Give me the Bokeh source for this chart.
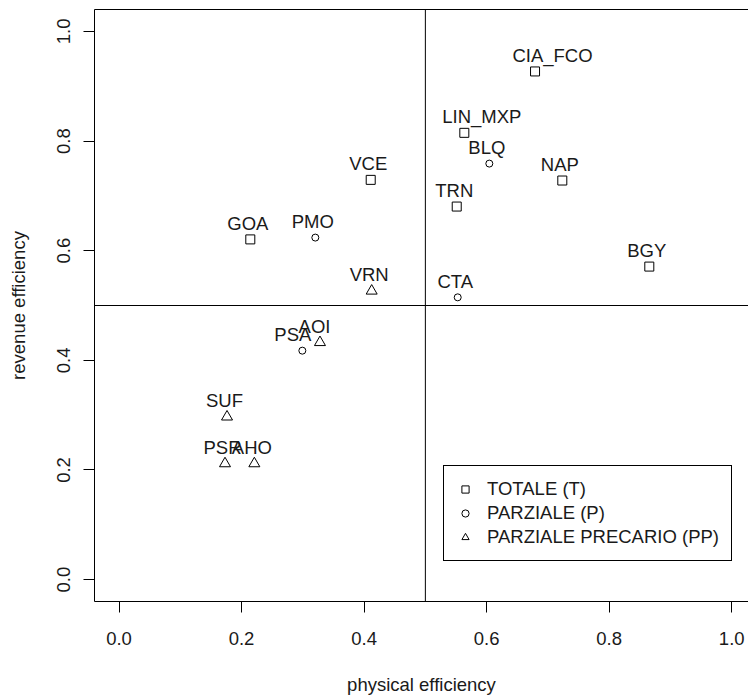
from bokeh.plotting import figure
from bokeh.models import (ColumnDataSource, Range1d, FixedTicker, LinearAxis, Span,
                          Legend, LegendItem)
from bokeh.core.properties import value
from bokeh.embed import file_html
from bokeh.resources import INLINE

# ---- data ----
tot_names = ["CIA_FCO", "LIN_MXP", "NAP", "TRN", "BGY", "VCE", "GOA"]
tot_phys = [0.679, 0.5636, 0.7235, 0.5512, 0.8655, 0.4108, 0.2143]
tot_rev = [0.927, 0.815, 0.728, 0.6805, 0.571, 0.7292, 0.6206]

par_names = ["BLQ", "CTA", "PMO", "PSA"]
par_phys = [0.6044, 0.5528, 0.3204, 0.2992]
par_rev = [0.7589, 0.5149, 0.6239, 0.4176]

pp_names = ["VRN", "AOI", "SUF", "PSR", "AHO"]
pp_phys = [0.4124, 0.328, 0.1763, 0.173, 0.2209]
pp_rev = [0.5266, 0.4327, 0.2969, 0.2116, 0.2116]

legend_labels = ["TOTALE (T)", "PARZIALE (P)", "PARZIALE PRECARIO (PP)"]
ticks = [0.0, 0.2, 0.4, 0.6, 0.8, 1.0]
tick_labels = ["0.0", "0.2", "0.4", "0.6", "0.8", "1.0"]
threshold = 0.5

# label nudges (pixels), style only
label_dx = {"CIA_FCO": 20, "LIN_MXP": 20, "PSA": -7, "AOI": -3}
BASE_DX = -2.5
BASE_DY = -16

FONT = "Liberation Sans"
FS = "18.5px"
TXT = "#1a1a1a"

p = figure(width=748, height=698, output_backend="svg", toolbar_location=None,
           x_range=Range1d(-0.04, 1.0274), y_range=Range1d(-0.04, 1.04),
           min_border_left=94, min_border_right=0, min_border_top=9, min_border_bottom=97)
p.outline_line_color = None
p.grid.visible = False
p.background_fill_color = "white"
p.border_fill_color = "white"

for ax in (p.xaxis[0], p.yaxis[0]):
    ax.ticker = FixedTicker(ticks=ticks)
    ax.major_label_overrides = {t: l for t, l in zip(ticks, tick_labels)}
    ax.minor_tick_line_color = None
    ax.major_tick_in = 0
    ax.major_tick_out = 11
    ax.major_tick_line_color = "black"
    ax.axis_line_color = "black"
    ax.major_label_text_font = FONT
    ax.major_label_text_font_size = FS
    ax.major_label_text_color = TXT
    ax.axis_label_text_font = FONT
    ax.axis_label_text_font_size = FS
    ax.axis_label_text_font_style = "normal"
    ax.axis_label_text_color = TXT

p.xaxis.axis_label = "physical efficiency"
p.yaxis.axis_label = "revenue efficiency"
p.xaxis.major_label_standoff = 19
p.xaxis.axis_label_standoff = 26
p.yaxis.major_label_orientation = "vertical"
p.yaxis.major_label_standoff = 13
p.yaxis.axis_label_standoff = 26

top_axis = LinearAxis(ticker=FixedTicker(ticks=[]), major_tick_out=0, major_tick_in=0,
                      minor_tick_out=0, minor_tick_in=0, major_label_text_font_size="0px",
                      axis_line_color="black")
p.add_layout(top_axis, "above")

p.add_layout(Span(location=threshold, dimension="height", line_color="black", line_width=1))
p.add_layout(Span(location=threshold, dimension="width", line_color="black", line_width=1))

def src(names, xs, ys):
    return ColumnDataSource(dict(
        x=xs, y=ys, name=names,
        dx=[BASE_DX + label_dx.get(n, 0) for n in names],
    ))

s_tot = src(tot_names, tot_phys, tot_rev)
s_par = src(par_names, par_phys, par_rev)
s_pp = src(pp_names, pp_phys, pp_rev)

r_tot = p.scatter("x", "y", source=s_tot, marker="square", size=9,
                  fill_color=None, line_color="black", line_width=1)
r_par = p.scatter("x", "y", source=s_par, marker="circle", size=7,
                  fill_color=None, line_color="black", line_width=1)
r_pp = p.scatter("x", "y", source=s_pp, marker="triangle", size=11,
                 fill_color=None, line_color="black", line_width=1)

for s in (s_tot, s_par, s_pp):
    p.text("x", "y", text="name", source=s, x_offset="dx", y_offset=BASE_DY,
           text_align="center", text_baseline="alphabetic",
           text_font=value(FONT), text_font_size=FS, text_color=TXT)

legend = Legend(items=[LegendItem(label=legend_labels[0], renderers=[r_tot]),
                       LegendItem(label=legend_labels[1], renderers=[r_par]),
                       LegendItem(label=legend_labels[2], renderers=[r_pp])],
                location=(349, 40), orientation="vertical",
                border_line_color="black", border_line_width=1, border_line_alpha=1,
                background_fill_color="white", background_fill_alpha=1,
                label_text_font=FONT, label_text_font_size=FS, label_text_color=TXT,
                glyph_width=18, glyph_height=18, label_height=21, label_standoff=13,
                padding=12, spacing=2, margin=0)
p.add_layout(legend)

open("out.html", "w").write(file_html(p, INLINE))
